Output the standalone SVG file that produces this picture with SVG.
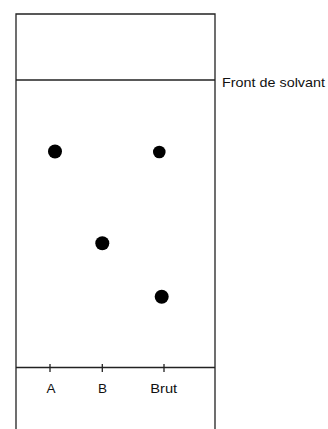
<svg xmlns="http://www.w3.org/2000/svg" width="328" height="429" viewBox="0 0 328 429">
<style>
.ln{stroke:#222;stroke-width:1.3;fill:none}
.lbl{font-family:"Liberation Sans",Arial,sans-serif;font-size:13.5px;fill:#111}
.spot{fill:#000}
</style>
<rect width="328" height="429" fill="#fff"/>
<g id="plate">
<path class="ln" d="M16,430 V14 H215 V430"/>
</g>
<g id="front">
<line class="ln" x1="16" y1="80" x2="215" y2="80"/>
<text class="lbl" x="222" y="86.5" textLength="103" lengthAdjust="spacingAndGlyphs">Front de solvant</text>
</g>
<g id="baseline">
<line class="ln" x1="16" y1="367.5" x2="215" y2="367.5"/>
<line class="ln" x1="50" y1="364" x2="50" y2="372"/>
<line class="ln" x1="102.3" y1="364" x2="102.3" y2="372"/>
<line class="ln" x1="164" y1="364" x2="164" y2="372"/>
<text class="lbl" x="51" y="393.3" text-anchor="middle">A</text>
<text class="lbl" x="102.5" y="393.3" text-anchor="middle">B</text>
<text class="lbl" x="163.7" y="393.3" text-anchor="middle" textLength="27" lengthAdjust="spacingAndGlyphs">Brut</text>
</g>
<g id="spots">
<circle class="spot" cx="55" cy="151.5" r="7"/>
<circle class="spot" cx="159.3" cy="152" r="6.3"/>
<circle class="spot" cx="102.3" cy="243.3" r="7"/>
<circle class="spot" cx="161.7" cy="296.7" r="7"/>
</g>
</svg>
